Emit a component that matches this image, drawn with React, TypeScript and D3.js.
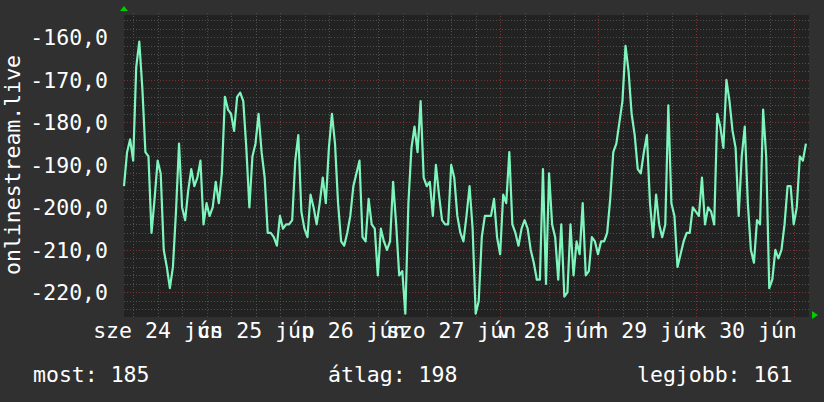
import * as d3 from "d3";
import { useEffect, useRef } from "react";

// rank values (plotted negated), one sample every 45 minutes
const ranks = [
    195, 187, 184, 189, 167, 161, 172, 187, 188, 206, 198, 189, 192, 210, 214, 219,
    214, 201, 185, 200, 203, 196, 191, 195, 193, 189, 204, 199, 202, 200, 194, 199,
    192, 174, 177, 178, 182, 174, 173, 175, 186, 200, 188, 185, 178, 187, 193, 206,
    206, 207, 209, 202, 205, 204, 204, 203, 189, 183, 201, 205, 207, 197, 200, 204,
    199, 193, 199, 186, 178, 185, 199, 208, 209, 206, 202, 195, 192, 189, 207, 208,
    198, 204, 205, 216, 205, 208, 210, 208, 194, 204, 216, 215, 225, 199, 186, 181,
    187, 175, 193, 195, 194, 202, 190, 197, 203, 204, 204, 190, 193, 202, 206, 208,
    202, 195, 205, 225, 222, 207, 202, 202, 202, 198, 207, 211, 197, 199, 187, 204,
    206, 209, 205, 203, 205, 210, 213, 217, 217, 191, 218, 192, 204, 207, 217, 204,
    221, 220, 204, 216, 208, 211, 199, 216, 215, 207, 208, 211, 208, 208, 206, 198,
    187, 185, 180, 175, 162, 168, 178, 183, 191, 192, 187, 183, 199, 207, 197, 204,
    207, 204, 176, 199, 202, 214, 211, 208, 206, 206, 200, 201, 202, 193, 204, 200,
    201, 204, 178, 181, 186, 170, 175, 182, 186, 202, 188, 181, 199, 210, 213, 203,
    204, 177, 188, 219, 217, 210, 212, 210, 204, 195, 195, 204, 200, 188, 189, 185,
];
const startTime = new Date(2020, 5, 24, 3, 41);
const stepMinutes = 45;
const spanDays = 7;

const yTicks = [-160, -170, -180, -190, -200, -210, -220];
const dayLabels = ["sze 24 jún", "cs 25 jún", "p 26 jún", "szo 27 jún", "v 28 jún", "h 29 jún", "k 30 jún"];
const dayDates = [24, 25, 26, 27, 28, 29, 30];
const legendLabels = ["most: 185", "átlag: 198", "legjobb: 161"];
const yTitle = "onlinestream.live";

export default function App() {
    const ref = useRef(null);
    const width = 824,
        height = 402;
    const left = 124, right = 809, top = 15, bottom = 315;

    useEffect(() => {
        const svg = d3.select(ref.current);
        svg.selectAll("*").remove();
        const font = "'DejaVu Sans Mono', monospace";

        const endTime = d3.timeDay.offset(startTime, spanDays);
        const x = d3.scaleTime().domain([startTime, endTime]).range([left, right]);
        const y = d3.scaleLinear().domain([-225.3, -154.75]).range([bottom, top]);

        svg.append("rect").attr("width", width).attr("height", height).attr("fill", "#303030");
        svg.append("rect")
            .attr("x", left).attr("y", top)
            .attr("width", right - left).attr("height", bottom - top + 2)
            .attr("fill", "#222222");

        // horizontal grid
        const minorY = d3.range(-224, -154, 2).filter(v => v % 10 !== 0);
        svg.selectAll(".hminor").data(minorY).join("line")
            .attr("x1", left).attr("x2", right + 2)
            .attr("y1", d => Math.round(y(d)) + 0.5).attr("y2", d => Math.round(y(d)) + 0.5)
            .attr("stroke", "#505050").attr("stroke-dasharray", "1,2");
        svg.selectAll(".hmajor").data(yTicks).join("line")
            .attr("x1", left).attr("x2", right + 2)
            .attr("y1", d => Math.round(y(d)) + 0.5).attr("y2", d => Math.round(y(d)) + 0.5)
            .attr("stroke", "#7a3434").attr("stroke-dasharray", "1,2");

        // vertical grid
        const minorX = d3.timeHour.every(6)!.range(startTime, endTime).filter(d => d.getHours() !== 0);
        const majorX = d3.timeDay.range(startTime, endTime);
        svg.selectAll(".vminor").data(minorX).join("line")
            .attr("x1", d => Math.round(x(d)) + 0.5).attr("x2", d => Math.round(x(d)) + 0.5)
            .attr("y1", top - 2).attr("y2", bottom + 2)
            .attr("stroke", "#505050").attr("stroke-dasharray", "1,2");
        svg.selectAll(".vmajor").data(majorX).join("line")
            .attr("x1", d => Math.round(x(d)) + 0.5).attr("x2", d => Math.round(x(d)) + 0.5)
            .attr("y1", top - 2).attr("y2", bottom + 2)
            .attr("stroke", "#7a3434").attr("stroke-dasharray", "1,2");

        // axis arrows
        svg.append("path")
            .attr("d", `M${left - 4},${top - 4} L${left + 4},${top - 4} L${left},${top - 9} Z`)
            .attr("fill", "#00cc00");
        svg.append("path")
            .attr("d", `M${right + 3},${bottom - 4} L${right + 3},${bottom + 4} L${right + 9},${bottom} Z`)
            .attr("fill", "#00cc00");

        // series
        const line = d3.line<number>()
            .x((_d, i) => x(d3.timeMinute.offset(startTime, i * stepMinutes)))
            .y(d => y(-d))
            .curve(d3.curveLinear);
        svg.append("path")
            .datum(ranks)
            .attr("d", line)
            .attr("fill", "none")
            .attr("stroke", "#7ef5bd")
            .attr("stroke-width", 2.2)
            .attr("stroke-linejoin", "round");

        // y labels
        svg.selectAll(".ylab").data(yTicks).join("text")
            .attr("x", 108).attr("y", d => y(d) + 8)
            .attr("text-anchor", "end")
            .attr("fill", "#ffffff")
            .style("font-family", font).style("font-size", "21.5px")
            .text(d => d.toFixed(1).replace(".", ","));

        svg.append("text")
            .attr("transform", `translate(20, ${(top + bottom) / 2}) rotate(-90)`)
            .attr("text-anchor", "middle")
            .attr("fill", "#ffffff")
            .style("font-family", font).style("font-size", "21.5px")
            .text(yTitle);

        // x labels at midday
        svg.selectAll(".xlab").data(dayLabels).join("text")
            .attr("x", (_d, i) => x(new Date(2020, 5, dayDates[i], 12)))
            .attr("y", 338)
            .attr("text-anchor", "middle")
            .attr("fill", "#ffffff")
            .style("font-family", font).style("font-size", "21.5px")
            .text(d => d);

        // legend
        const legendX = [33, 328, 637];
        svg.selectAll(".leg").data(legendLabels).join("text")
            .attr("x", (_d, i) => legendX[i])
            .attr("y", 382)
            .attr("fill", "#ffffff")
            .style("font-family", font).style("font-size", "21.5px")
            .text(d => d);
    }, []);

    return (
        <svg ref={ref} width={width} height={height}
            style={{ position: "absolute", left: 0, top: 0 }}>
        </svg>
    );
}
